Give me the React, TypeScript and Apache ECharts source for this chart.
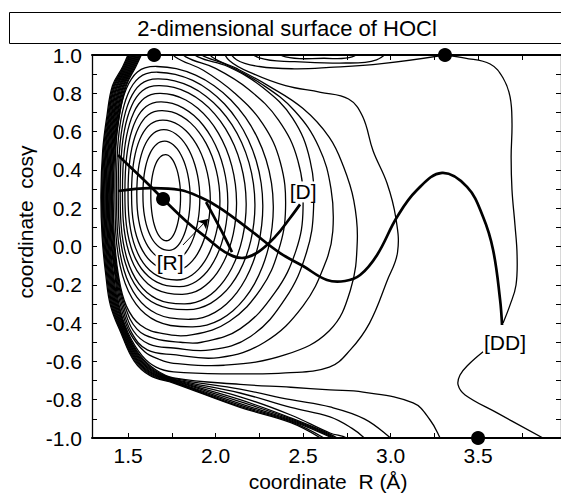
import { useEffect, useRef } from "react";
import * as echarts from "echarts";

const FONT = "'Liberation Sans', Arial, Helvetica, sans-serif";

// ---- axes ----
const xMin = 1.294;
const xMax = 3.974;
const yMin = -1.0;
const yMax = 1.0;
const xLabelValues = [1.5, 2.0, 2.5, 3.0, 3.5];
const xTickValues = [1.5, 1.75, 2.0, 2.25, 2.5, 2.75, 3.0, 3.25, 3.5, 3.75];
const yLabelValues = [-1.0, -0.8, -0.6, -0.4, -0.2, 0.0, 0.2, 0.4, 0.6, 0.8, 1.0];
const yTickValues = [-1.0, -0.9, -0.8, -0.7, -0.6, -0.5, -0.4, -0.3, -0.2, -0.1, 0.0, 0.1, 0.2, 0.3, 0.4, 0.5, 0.6, 0.7, 0.8, 0.9, 1.0];

// ---- closed contours around the HOCl minimum (read extents) ----
const closedRight = [1.80, 1.855, 1.91, 1.97, 2.025, 2.07, 2.12, 2.175, 2.225, 2.27, 2.33];
const closedRightY = [0.26, 0.255, 0.25, 0.245, 0.24, 0.235, 0.23, 0.225, 0.22, 0.215, 0.21];
const closedTop = [0.48, 0.55, 0.61, 0.66, 0.71, 0.755, 0.80, 0.84, 0.875, 0.91, 0.94];
const closedTopX = [1.715, 1.71, 1.705, 1.70, 1.695, 1.69, 1.685, 1.68, 1.675, 1.67, 1.665];
const closedLeft = [1.63, 1.585, 1.55, 1.52, 1.50, 1.482, 1.468, 1.455, 1.444, 1.434, 1.425];
const closedLeftY = [0.27, 0.27, 0.27, 0.27, 0.27, 0.27, 0.27, 0.27, 0.27, 0.27, 0.27];
const closedBottom = [0.03, -0.02, -0.075, -0.125, -0.175, -0.21, -0.25, -0.30, -0.33, -0.38, -0.42];
const closedBottomX = [1.72, 1.735, 1.75, 1.765, 1.78, 1.795, 1.81, 1.825, 1.84, 1.855, 1.87];

// ---- open contours (both ends on the cos(gamma)=1 border) ----
const contourU12 = [[1.60,1.05],[1.545,0.94],[1.49,0.84],[1.45,0.68],[1.425,0.50],[1.415,0.27],[1.422,0.05],[1.445,-0.15],[1.49,-0.31],[1.57,-0.41],[1.70,-0.455],[1.87,-0.46],[2.08,-0.39],[2.26,-0.22],[2.36,-0.02],[2.40,0.20],[2.37,0.44],[2.27,0.64],[2.11,0.80],[1.93,0.92],[1.77,0.99],[1.72,1.05]];
const contourU13 = [[1.595,1.05],[1.54,0.94],[1.485,0.84],[1.445,0.68],[1.42,0.50],[1.41,0.27],[1.417,0.05],[1.441,-0.15],[1.482,-0.31],[1.55,-0.43],[1.65,-0.48],[1.80,-0.50],[1.92,-0.50],[2.14,-0.43],[2.34,-0.24],[2.46,-0.02],[2.50,0.20],[2.47,0.45],[2.36,0.66],[2.19,0.82],[2.00,0.93],[1.83,0.99],[1.77,1.05]];
const contourU14 = [[1.589,1.05],[1.535,0.94],[1.479,0.84],[1.44,0.68],[1.416,0.50],[1.406,0.27],[1.413,0.05],[1.437,-0.15],[1.474,-0.31],[1.53,-0.44],[1.62,-0.51],[1.76,-0.53],[1.97,-0.54],[2.20,-0.47],[2.40,-0.27],[2.52,-0.03],[2.56,0.20],[2.54,0.45],[2.44,0.67],[2.27,0.83],[2.07,0.94],[1.90,0.99],[1.83,1.05]];
const contourU15 = [[1.584,1.05],[1.53,0.94],[1.474,0.84],[1.436,0.68],[1.411,0.50],[1.401,0.27],[1.408,0.05],[1.433,-0.15],[1.466,-0.31],[1.52,-0.45],[1.61,-0.54],[1.76,-0.565],[2.02,-0.58],[2.28,-0.50],[2.50,-0.31],[2.63,-0.08],[2.67,0.08],[2.66,0.30],[2.59,0.52],[2.45,0.71],[2.26,0.85],[2.06,0.95],[1.92,1.0],[1.88,1.05]];
const contourU16 = [[1.579,1.05],[1.525,0.94],[1.469,0.84],[1.431,0.68],[1.406,0.50],[1.396,0.27],[1.403,0.05],[1.429,-0.15],[1.458,-0.31],[1.51,-0.45],[1.595,-0.55],[1.68,-0.59],[1.76,-0.61],[2.05,-0.62],[2.40,-0.565],[2.65,-0.44],[2.77,-0.23],[2.81,0.03],[2.79,0.24],[2.73,0.42],[2.65,0.57],[2.50,0.72],[2.30,0.84],[2.12,0.93],[1.98,0.99],[1.94,1.05]];
const contourU17 = [[1.573,1.05],[1.52,0.94],[1.463,0.84],[1.426,0.68],[1.402,0.50],[1.392,0.27],[1.399,0.05],[1.425,-0.15],[1.45,-0.31],[1.50,-0.45],[1.58,-0.57],[1.66,-0.63],[1.76,-0.655],[2.10,-0.665],[2.40,-0.66],[2.65,-0.63],[2.77,-0.54],[2.88,-0.40],[2.98,-0.18],[3.04,-0.03],[3.03,0.15],[2.98,0.33],[2.90,0.50],[2.84,0.68],[2.76,0.77],[2.60,0.805],[2.40,0.84],[2.22,0.90],[2.08,0.97],[2.03,1.05]];

// ---- contours near the upper border ----
const separatrixTop = [[2.06,1.05],[2.12,0.975],[2.25,0.94],[2.45,0.928],[2.65,0.935],[2.95,0.955],[3.311,1.0]];
const arcTopA = [[2.16,1.05],[2.25,0.985],[2.45,0.965],[2.71,0.958],[2.92,0.975],[3.02,1.05]];
const arcTopB = [[2.30,1.05],[2.40,0.99],[2.62,0.983],[2.78,0.99],[2.86,1.05]];

// ---- contours of the repulsive wall, ending on the cos(gamma)=-1 border ----
const wall1 = [[1.568,1.05],[1.515,0.94],[1.458,0.84],[1.421,0.68],[1.397,0.50],[1.387,0.27],[1.394,0.05],[1.418,-0.15],[1.445,-0.31],[1.495,-0.45],[1.57,-0.57],[1.66,-0.645],[1.76,-0.686],[2.14,-0.72],[2.43,-0.735],[2.654,-0.749],[2.843,-0.76],[3.129,-0.817],[3.226,-0.906],[3.283,-1.0],[3.30,-1.04]];
const wall2 = [[1.563,1.05],[1.51,0.94],[1.453,0.84],[1.417,0.68],[1.392,0.50],[1.382,0.27],[1.389,0.05],[1.413,-0.15],[1.44,-0.31],[1.491,-0.45],[1.566,-0.573],[1.656,-0.649],[1.76,-0.689],[2.14,-0.745],[2.43,-0.80],[2.654,-0.838],[2.85,-0.90],[3.0,-1.0],[3.03,-1.03]];
const wall3 = [[1.558,1.05],[1.505,0.94],[1.448,0.84],[1.412,0.68],[1.387,0.50],[1.377,0.27],[1.384,0.05],[1.408,-0.15],[1.435,-0.31],[1.487,-0.45],[1.562,-0.576],[1.652,-0.652],[1.76,-0.692],[2.14,-0.765],[2.43,-0.84],[2.654,-0.89],[2.78,-0.95],[2.85,-1.0],[2.87,-1.03]];
const wall4 = [[1.552,1.05],[1.50,0.94],[1.442,0.84],[1.407,0.68],[1.383,0.50],[1.373,0.27],[1.38,0.05],[1.403,-0.15],[1.43,-0.31],[1.483,-0.45],[1.558,-0.579],[1.648,-0.655],[1.76,-0.695],[2.14,-0.785],[2.43,-0.88],[2.654,-0.974],[2.75,-1.0],[2.77,-1.03]];
const wall5 = [[1.547,1.05],[1.495,0.94],[1.437,0.84],[1.403,0.68],[1.378,0.50],[1.368,0.27],[1.375,0.05],[1.398,-0.15],[1.425,-0.31],[1.479,-0.45],[1.554,-0.582],[1.644,-0.658],[1.76,-0.698],[2.14,-0.80],[2.43,-0.895],[2.654,-0.98],[2.73,-1.02]];
const wall6 = [[1.542,1.05],[1.49,0.94],[1.432,0.84],[1.398,0.68],[1.373,0.50],[1.363,0.27],[1.37,0.05],[1.393,-0.15],[1.42,-0.31],[1.475,-0.45],[1.55,-0.585],[1.64,-0.661],[1.76,-0.701],[2.14,-0.81],[2.43,-0.90],[2.654,-0.985],[2.71,-1.02]];
const wall7 = [[1.537,1.05],[1.485,0.94],[1.426,0.84],[1.393,0.68],[1.369,0.50],[1.359,0.27],[1.366,0.05],[1.388,-0.15],[1.415,-0.31],[1.471,-0.45],[1.546,-0.588],[1.636,-0.664],[1.76,-0.704],[2.14,-0.82],[2.43,-0.905],[2.654,-0.99],[2.69,-1.02]];
const wall8 = [[1.532,1.05],[1.48,0.94],[1.421,0.84],[1.389,0.68],[1.364,0.50],[1.354,0.27],[1.361,0.05],[1.383,-0.15],[1.41,-0.31],[1.467,-0.45],[1.542,-0.591],[1.632,-0.667],[1.76,-0.707],[2.14,-0.828],[2.43,-0.91],[2.654,-0.995],[2.67,-1.02]];
const wall9 = [[1.526,1.05],[1.475,0.94],[1.416,0.84],[1.384,0.68],[1.359,0.50],[1.349,0.27],[1.356,0.05],[1.378,-0.15],[1.405,-0.31],[1.463,-0.45],[1.538,-0.594],[1.628,-0.67],[1.76,-0.71],[2.14,-0.835],[2.43,-0.915],[2.62,-1.0],[2.63,-1.02]];
const wall10 = [[1.521,1.05],[1.47,0.94],[1.411,0.84],[1.379,0.68],[1.355,0.50],[1.345,0.27],[1.352,0.05],[1.373,-0.15],[1.40,-0.31],[1.459,-0.45],[1.534,-0.597],[1.624,-0.673],[1.76,-0.713],[2.14,-0.84],[2.43,-0.92],[2.60,-1.0],[2.61,-1.02]];

// ---- contour through the second saddle, split by the [DD] label ----
const ddContourUpper = [[3.311,1.0],[3.426,0.984],[3.569,0.953],[3.643,0.88],[3.683,0.781],[3.694,0.645],[3.689,0.467],[3.694,0.295],[3.711,0.112],[3.723,-0.044],[3.717,-0.201],[3.683,-0.305],[3.643,-0.399]];
const ddContourLower = [[3.529,-0.55],[3.443,-0.619],[3.397,-0.671],[3.386,-0.723],[3.426,-0.775],[3.609,-0.869],[3.871,-1.0]];

// ---- reaction paths (thick) ----
const pathToDD = [[1.443,0.29],[1.626,0.305],[1.797,0.295],[1.911,0.258],[2.026,0.201],[2.197,0.086],[2.369,-0.034],[2.5,-0.102],[2.637,-0.175],[2.74,-0.18],[2.826,-0.149],[2.923,-0.044],[3.037,0.154],[3.151,0.295],[3.294,0.384],[3.437,0.311],[3.529,0.154],[3.586,-0.018],[3.626,-0.279],[3.637,-0.41]];
const pathToD = [[1.443,0.478],[1.471,0.452],[1.597,0.342],[1.70,0.248],[1.837,0.128],[1.951,0.044],[2.054,-0.029],[2.151,-0.060],[2.243,-0.029],[2.340,0.050],[2.426,0.149],[2.483,0.22]];
const pathBranch = [[1.946,0.232],[1.986,0.164],[2.037,0.076],[2.094,-0.029]];

// ---- stationary points, labels, arrow ----
const stationaryPoints = [[1.649, 1.0], [3.311, 1.0], [1.70, 0.248], [3.50, -1.0]];
const pathLabels = ["[R]", "[D]", "[DD]"];
const pathLabelPos = [[1.74, -0.081], [2.50, 0.285], [3.654, -0.499]];
const arrowFrom = [1.814, 0.008];
const arrowTo = [1.957, 0.144];

// quadrant-wise superellipse outline drawn between the read extents (shape only)
const QUAD_STEPS = [0, 10, 20, 30, 40, 50, 60, 70, 80];
function quadrant(xh: number, yh: number, xv: number, yv: number, n: number, reverse: boolean) {
  return QUAD_STEPS.map((deg) => {
    const t = ((reverse ? 90 - deg : deg) * Math.PI) / 180;
    const c = Math.pow(Math.cos(t), 2 / n);
    const s = Math.pow(Math.sin(t), 2 / n);
    return [xv + (xh - xv) * c, yh + (yv - yh) * s];
  });
}

const closedLoops = closedRight.map((R, k) => {
  const yR = closedRightY[k];
  const T = closedTop[k];
  const xT = closedTopX[k];
  const L = closedLeft[k];
  const yL = closedLeftY[k];
  const B = closedBottom[k];
  const xB = closedBottomX[k];
  const nLeft = 2.1 + 0.07 * k;
  return [
    ...quadrant(R, yR, xT, T, 1.95, false),
    ...quadrant(L, yL, xT, T, nLeft, true),
    ...quadrant(L, yL, xB, B, nLeft, false),
    ...quadrant(R, yR, xB, B, 2.0, true),
  ];
});

const openContours = [
  contourU12, contourU13, contourU14, contourU15, contourU16, contourU17,
  separatrixTop, arcTopA, arcTopB,
  wall1, wall2, wall3, wall4, wall5, wall6, wall7, wall8, wall9, wall10,
  ddContourUpper, ddContourLower,
];

type Curve = { points: number[][]; closed: boolean };
const thinCurves: Curve[] = [
  ...closedLoops.map((points) => ({ points, closed: true })),
  ...openContours.map((points) => ({ points, closed: false })),
];
const thickCurves: Curve[] = [pathToDD, pathToD, pathBranch].map((points) => ({ points, closed: false }));

function curveSeries(curves: Curve[], width: number) {
  return {
    type: "custom",
    coordinateSystem: "cartesian2d",
    clip: true,
    silent: true,
    z: width > 2 ? 4 : 2,
    data: curves.map((c, i) => [c.points[0][0], c.points[0][1], i]),
    encode: { x: 0, y: 1 },
    renderItem: (_params: any, api: any) => {
      const c = curves[api.value(2)];
      const pts = c.points.map((p) => api.coord(p));
      return {
        type: c.closed ? "polygon" : "polyline",
        shape: { points: pts, smooth: c.closed ? 0.25 : 0.4 },
        style: { fill: "none", stroke: "#000", lineWidth: width },
      };
    },
  };
}

export default function App() {
  const ref = useRef<HTMLDivElement>(null);
  useEffect(() => {
    if (!ref.current) return;
    const chart = echarts.init(ref.current, null, { renderer: "svg" });
    const fmt = (v: number) => v.toFixed(1);
    const axisCommon = {
      type: "value",
      splitLine: { show: false },
      axisLine: { show: true, onZero: false, lineStyle: { color: "#000", width: 2 } },
    };
    chart.setOption({
      animation: false,
      backgroundColor: "#fff",
      textStyle: { fontFamily: FONT },
      grid: { left: 92, top: 55, right: 0, bottom: 55, containLabel: false, outerBoundsMode: "none" },
      xAxis: [
        {
          ...axisCommon,
          position: "bottom",
          min: xMin,
          max: xMax,
          axisTick: { show: true, inside: true, length: 5, customValues: xTickValues, lineStyle: { color: "#000", width: 1 } },
          axisLabel: { show: true, customValues: xLabelValues, formatter: fmt, fontSize: 21, color: "#000", margin: 7, fontFamily: FONT },
        },
        {
          ...axisCommon,
          position: "top",
          min: xMin,
          max: xMax,
          axisTick: { show: true, inside: true, length: 5, customValues: xTickValues, lineStyle: { color: "#000", width: 1 } },
          axisLabel: { show: false },
        },
      ],
      yAxis: [
        {
          ...axisCommon,
          position: "left",
          min: yMin,
          max: yMax,
          axisLine: { show: true, onZero: false, lineStyle: { color: "#000", width: 1.3 } },
          axisTick: { show: true, inside: true, length: 5, customValues: yTickValues, lineStyle: { color: "#000", width: 1 } },
          axisLabel: { show: true, customValues: yLabelValues, formatter: fmt, fontSize: 21, color: "#000", margin: 10, fontFamily: FONT },
        },
        {
          ...axisCommon,
          position: "right",
          min: yMin,
          max: yMax,
          axisLine: { show: true, onZero: false, lineStyle: { color: "#000", width: 1.3 } },
          axisTick: { show: true, inside: true, length: 5, customValues: yTickValues, lineStyle: { color: "#000", width: 1 } },
          axisLabel: { show: false },
        },
      ],
      graphic: [
        {
          type: "rect",
          shape: { x: 9.5, y: 12.5, width: 560, height: 31 },
          style: { fill: "#fff", stroke: "#000", lineWidth: 1 },
        },
        {
          type: "text",
          x: 287,
          y: 28,
          style: { text: "2-dimensional surface of HOCl", fontSize: 22, fontFamily: FONT, fill: "#000", align: "center", verticalAlign: "middle" },
        },
        {
          type: "text",
          x: 328,
          y: 481,
          style: { text: "coordinate\u00a0 R (\u00c5)", fontSize: 21, fontFamily: FONT, fill: "#000", align: "center", verticalAlign: "middle" },
        },
        {
          type: "text",
          x: 25,
          y: 222,
          rotation: Math.PI / 2,
          style: { text: "coordinate\u00a0 cos\u03b3", fontSize: 21, fontFamily: FONT, fill: "#000", align: "center", verticalAlign: "middle" },
        },
      ],
      series: [
        curveSeries(thinCurves, 1.3),
        curveSeries(thickCurves, 2.7),
        {
          type: "scatter",
          symbol: "circle",
          symbolSize: 14,
          clip: false,
          z: 5,
          itemStyle: { color: "#000", opacity: 1 },
          data: stationaryPoints,
        },
        {
          type: "scatter",
          symbolSize: 0,
          z: 6,
          itemStyle: { color: "#000", opacity: 1 },
          label: {
            show: true,
            position: "inside",
            formatter: (p: any) => p.name,
            fontSize: 21,
            fontFamily: FONT,
            color: "#000",
            opacity: 1,
            textBorderWidth: 0,
            backgroundColor: "#fff",
            padding: [0, 1],
          },
          data: pathLabels.map((name, i) => ({ name, value: pathLabelPos[i] })),
          markLine: {
            silent: true,
            symbol: ["none", "arrow"],
            symbolSize: 9,
            label: { show: false },
            lineStyle: { color: "#000", width: 1, type: "solid", opacity: 1 },
            data: [[{ coord: arrowFrom }, { coord: arrowTo }]],
          },
        },
      ],
    });
    return () => chart.dispose();
  }, []);
  return <div ref={ref} style={{ position: "fixed", left: 0, top: 0, width: 561, height: 493 }} />;
}
